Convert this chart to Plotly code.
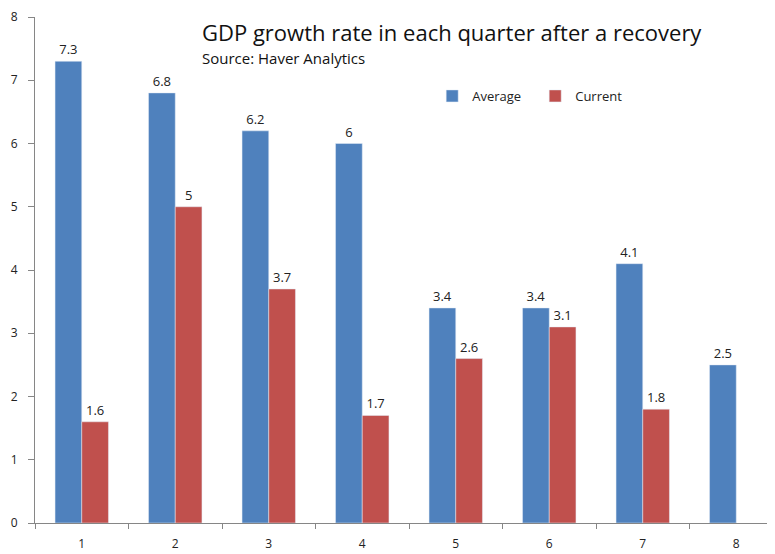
import plotly.graph_objects as go

quarters = ["1", "2", "3", "4", "5", "6", "7", "8"]
average = [7.3, 6.8, 6.2, 6, 3.4, 3.4, 4.1, 2.5]
current = [1.6, 5, 3.7, 1.7, 2.6, 3.1, 1.8, None]

def labels(vals):
    return ["" if v is None else f"{v:g}" for v in vals]

fig = go.Figure()
fig.add_trace(go.Bar(x=quarters, y=average, name="Average", marker_color="#4F81BD",
                     text=labels(average), textposition="outside", cliponaxis=False,
                     textfont=dict(size=13, color="#222")))
fig.add_trace(go.Bar(x=quarters, y=current, name="Current", marker_color="#C0504D",
                     text=labels(current), textposition="outside", cliponaxis=False,
                     textfont=dict(size=13, color="#222")))

fig.update_layout(
    width=775, height=554,
    margin=dict(l=27, r=0, t=9, b=39, autoexpand=False),
    plot_bgcolor="white", paper_bgcolor="white",
    barmode="group", bargap=0.4286, bargroupgap=0,
    font=dict(family="Open Sans, sans-serif", size=12, color="#222"),
    showlegend=True,
    legend=dict(orientation="h", x=0.531, y=0.8439, xanchor="left", yanchor="middle",
                font=dict(size=13), itemwidth=30, entrywidth=58, bgcolor="rgba(0,0,0,0)"),
    annotations=[
        dict(text="GDP growth rate in each quarter after a recovery", xref="paper", yref="paper",
             x=0.2207, y=0.9704, xanchor="left", yanchor="middle", showarrow=False,
             font=dict(size=22, color="#111")),
        dict(text="Source: Haver Analytics", xref="paper", yref="paper",
             x=0.2207, y=0.919, xanchor="left", yanchor="middle", showarrow=False,
             font=dict(size=15, color="#111")),
    ],
)
fig.update_yaxes(range=[0, 8], dtick=1, tick0=0,
                 showgrid=False, showline=True, linecolor="#868686",
                 ticks="outside", ticklen=6, tickcolor="#868686", zeroline=False,
                 ticklabelstandoff=8, ticklabeloverflow="allow",
                 tickfont=dict(size=12, color="#222"))
fig.update_xaxes(range=[-0.5, 7.5], showgrid=False, showline=True, linecolor="#868686",
                 ticks="outside", ticklen=5, tickcolor="#868686", tickson="boundaries",
                 ticklabelstandoff=10, tickfont=dict(size=12, color="#222"))

fig.write_html("out.html")
